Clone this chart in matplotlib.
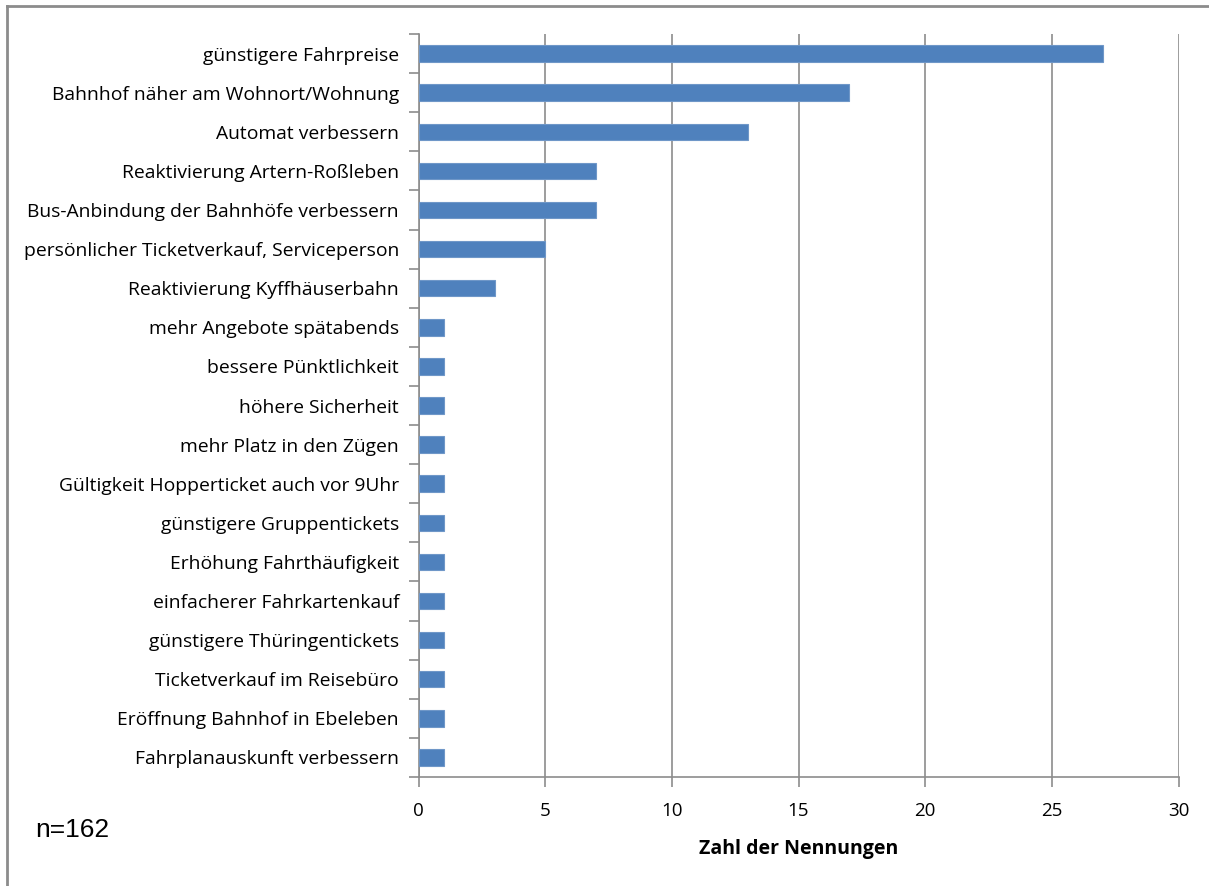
import matplotlib.pyplot as plt
from matplotlib.lines import Line2D

# Kategorien (von oben nach unten) und Anzahl der Nennungen
kategorien = [
    'günstigere Fahrpreise',
    'Bahnhof näher am Wohnort/Wohnung',
    'Automat verbessern',
    'Reaktivierung Artern-Roßleben',
    'Bus-Anbindung der Bahnhöfe verbessern',
    'persönlicher Ticketverkauf, Serviceperson',
    'Reaktivierung Kyffhäuserbahn',
    'mehr Angebote spätabends',
    'bessere Pünktlichkeit',
    'höhere Sicherheit',
    'mehr Platz in den Zügen',
    'Gültigkeit Hopperticket auch vor 9Uhr',
    'günstigere Gruppentickets',
    'Erhöhung Fahrthäufigkeit',
    'einfacherer Fahrkartenkauf',
    'günstigere Thüringentickets',
    'Ticketverkauf im Reisebüro',
    'Eröffnung Bahnhof in Ebeleben',
    'Fahrplanauskunft verbessern',
]
nennungen = [27, 17, 13, 7, 7, 5, 3, 1, 1, 1, 1, 1, 1, 1, 1, 1, 1, 1, 1]
x_ticks = [0, 5, 10, 15, 20, 25, 30]

grau = '#8c8c8c'
plt.rcParams['font.family'] = ['Open Sans', 'DejaVu Sans']

W, H = 1209, 886
fig = plt.figure(figsize=(W / 100, H / 100), dpi=100)
ax = fig.add_axes([418.5 / W, 1 - 777 / H, (1178.5 - 418.5) / W, (777 - 34) / H])

pos = list(range(len(kategorien)))
ax.barh(pos, nennungen, height=0.42, color='#4f81bd', edgecolor='#6f97c8',
        linewidth=0.8, zorder=3)

ax.set_xlim(0, 30)
ax.set_ylim(len(kategorien) - 0.5, -0.5)
ax.set_xticks(x_ticks)
ax.set_xticklabels([str(t) for t in x_ticks], fontsize=13.5)
ax.set_yticks(pos)
ax.set_yticklabels(kategorien, fontsize=13.9)
ax.tick_params(axis='y', length=0, pad=14)
ax.tick_params(axis='x', length=7, color=grau, width=1.2, pad=11)

# Teilstriche zwischen den Kategorien
ax.set_yticks([p - 0.5 for p in pos] + [len(pos) - 0.5], minor=True)
ax.tick_params(axis='y', which='minor', length=7, color=grau, width=1.2)

ax.grid(axis='x', color=grau, linewidth=1.2, zorder=0)
for s in ['top', 'right']:
    ax.spines[s].set_visible(False)
for s in ['left', 'bottom']:
    ax.spines[s].set_color(grau)
    ax.spines[s].set_linewidth(1.2)

ax.set_xlabel('Zahl der Nennungen', fontsize=14, fontweight='bold', labelpad=14)

fig.text(35 / W, 1 - 830 / H, 'n=162', fontsize=19, family='Liberation Sans',
         va='center', ha='left')

# Rahmen um die Grafik
fig.add_artist(Line2D([7 / W, 7 / W], [0, 1 - 6 / H], transform=fig.transFigure,
                      color=grau, linewidth=2))
fig.add_artist(Line2D([7 / W, 1], [1 - 6 / H, 1 - 6 / H], transform=fig.transFigure,
                      color=grau, linewidth=2))

fig.savefig('out.png', dpi=100)
